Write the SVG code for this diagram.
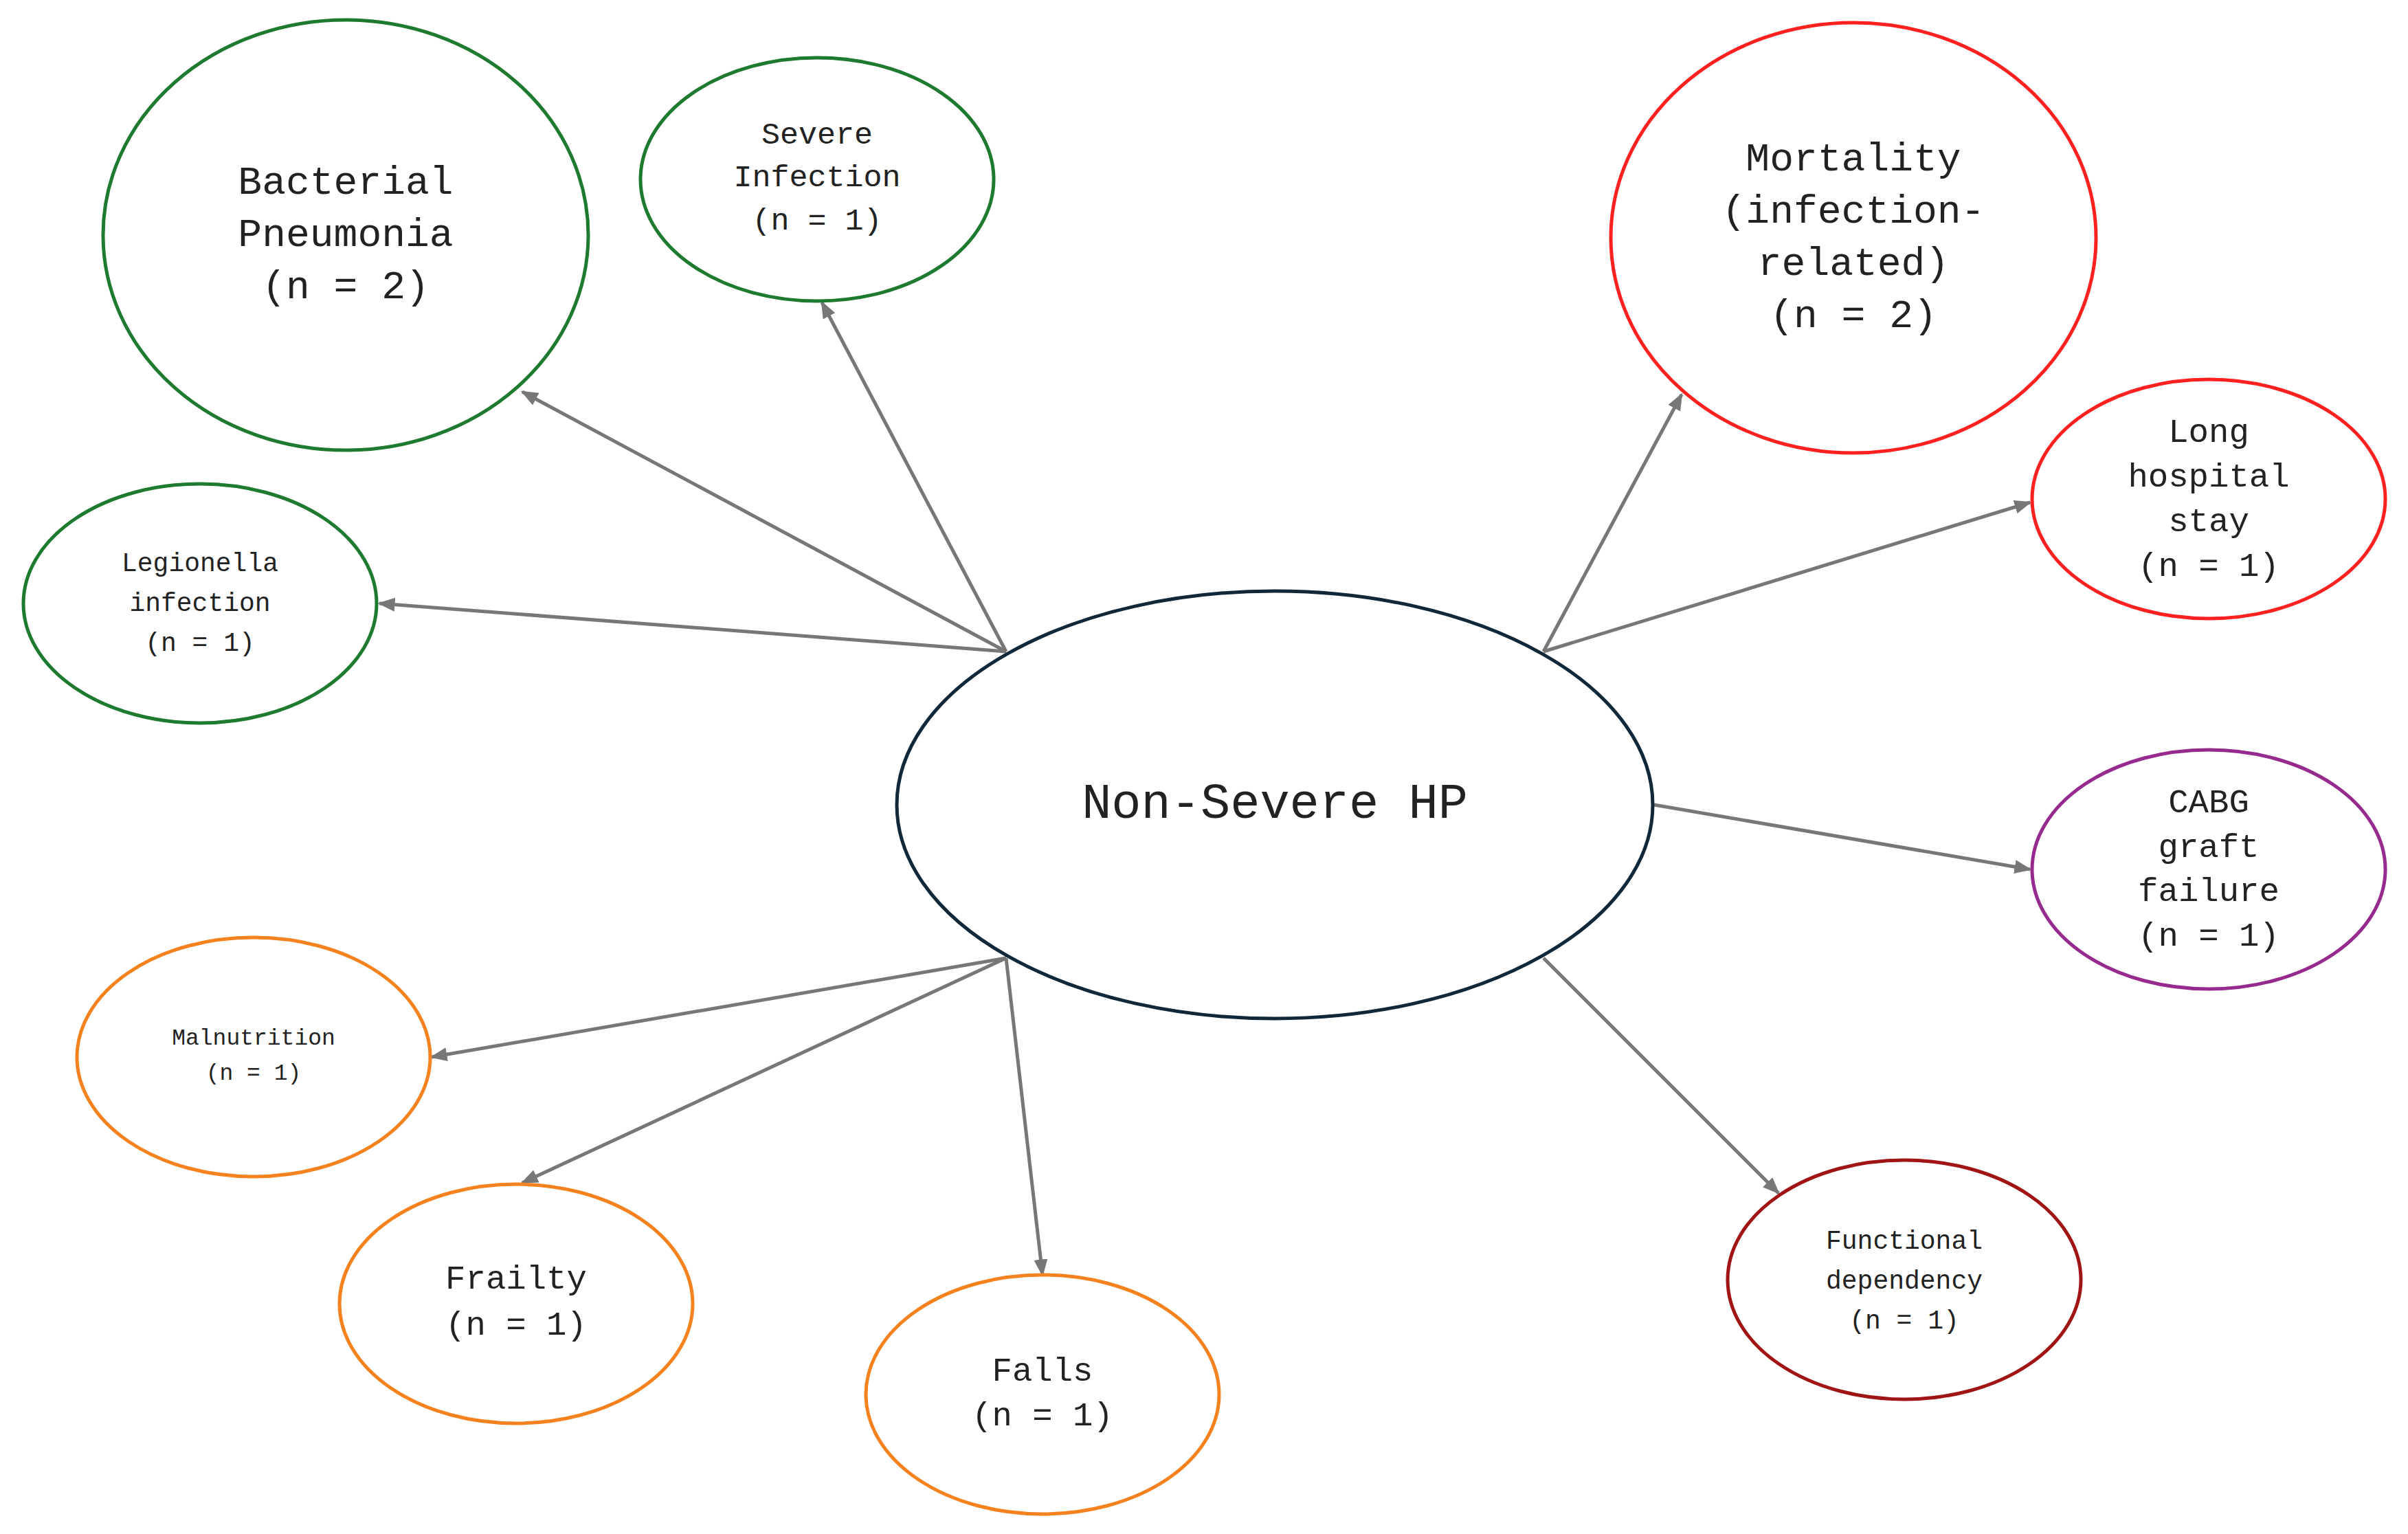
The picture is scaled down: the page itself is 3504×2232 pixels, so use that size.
<svg xmlns="http://www.w3.org/2000/svg" width="3504" height="2232" viewBox="0 0 3504 2232">
<style>
text{font-family:"Liberation Mono","Courier New",monospace;fill:#222;text-anchor:middle;dominant-baseline:central}
ellipse{fill:#fff;stroke-width:5}
.g{stroke:#1e7a2e}.r{stroke:#ff2020}.p{stroke:#962a8e}.d{stroke:#a01414}.o{stroke:#f5821f}.c{stroke:#10283a}
#connectors line{stroke:#777;stroke-width:5;marker-end:url(#ah)}
</style>
<defs><marker id="ah" viewBox="0 0 10 10" refX="9" refY="5" markerWidth="5" markerHeight="5" orient="auto"><path d="M0,1 L10,5 L0,9 z" fill="#777"/></marker></defs>
<rect width="3504" height="2232" fill="#fff"/>
<g id="connectors">
<line x1="1464" y1="948" x2="760" y2="570"/>
<line x1="1464" y1="948" x2="1196" y2="440"/>
<line x1="1464" y1="948" x2="552" y2="878"/>
<line x1="2246" y1="948" x2="2447" y2="574"/>
<line x1="2246" y1="948" x2="2954" y2="731"/>
<line x1="2407" y1="1171" x2="2954" y2="1265"/>
<line x1="2246" y1="1394" x2="2588" y2="1736"/>
<line x1="1464" y1="1394" x2="628" y2="1538"/>
<line x1="1464" y1="1394" x2="760" y2="1721"/>
<line x1="1464" y1="1394" x2="1517" y2="1855"/>
</g>
<g id="center"><ellipse class="c" cx="1855" cy="1171" rx="550" ry="311"/><text x="1855" y="1171" font-size="72">Non-Severe HP</text></g>
<g id="bacterial"><ellipse class="g" cx="503" cy="342" rx="353" ry="313"/><g font-size="58"><text x="503" y="266">Bacterial</text><text x="503" y="342">Pneumonia</text><text x="503" y="418">(n = 2)</text></g></g>
<g id="severe"><ellipse class="g" cx="1189" cy="261" rx="257" ry="177"/><g font-size="45"><text x="1189" y="197">Severe</text><text x="1189" y="259">Infection</text><text x="1189" y="322">(n = 1)</text></g></g>
<g id="legionella"><ellipse class="g" cx="291" cy="878" rx="257" ry="174"/><g font-size="38"><text x="291" y="820">Legionella</text><text x="291" y="878">infection</text><text x="291" y="936">(n = 1)</text></g></g>
<g id="mortality"><ellipse class="r" cx="2697" cy="346" rx="353" ry="313"/><g font-size="58"><text x="2697" y="232">Mortality</text><text x="2697" y="308">(infection-</text><text x="2697" y="384">related)</text><text x="2697" y="460">(n = 2)</text></g></g>
<g id="long"><ellipse class="r" cx="3214" cy="726" rx="257" ry="174"/><g font-size="49"><text x="3214" y="630">Long</text><text x="3214" y="695">hospital</text><text x="3214" y="760">stay</text><text x="3214" y="825">(n = 1)</text></g></g>
<g id="cabg"><ellipse class="p" cx="3214" cy="1265" rx="257" ry="174"/><g font-size="49"><text x="3214" y="1169">CABG</text><text x="3214" y="1234">graft</text><text x="3214" y="1298">failure</text><text x="3214" y="1363">(n = 1)</text></g></g>
<g id="functional"><ellipse class="d" cx="2771" cy="1862" rx="257" ry="174"/><g font-size="38"><text x="2771" y="1806">Functional</text><text x="2771" y="1864">dependency</text><text x="2771" y="1922">(n = 1)</text></g></g>
<g id="malnutrition"><ellipse class="o" cx="369" cy="1538" rx="257" ry="174"/><g font-size="33"><text x="369" y="1511">Malnutrition</text><text x="369" y="1562">(n = 1)</text></g></g>
<g id="frailty"><ellipse class="o" cx="751" cy="1897" rx="257" ry="174"/><g font-size="49"><text x="751" y="1862">Frailty</text><text x="751" y="1929">(n = 1)</text></g></g>
<g id="falls"><ellipse class="o" cx="1517" cy="2029" rx="257" ry="174"/><g font-size="49"><text x="1517" y="1996">Falls</text><text x="1517" y="2061">(n = 1)</text></g></g>
</svg>
